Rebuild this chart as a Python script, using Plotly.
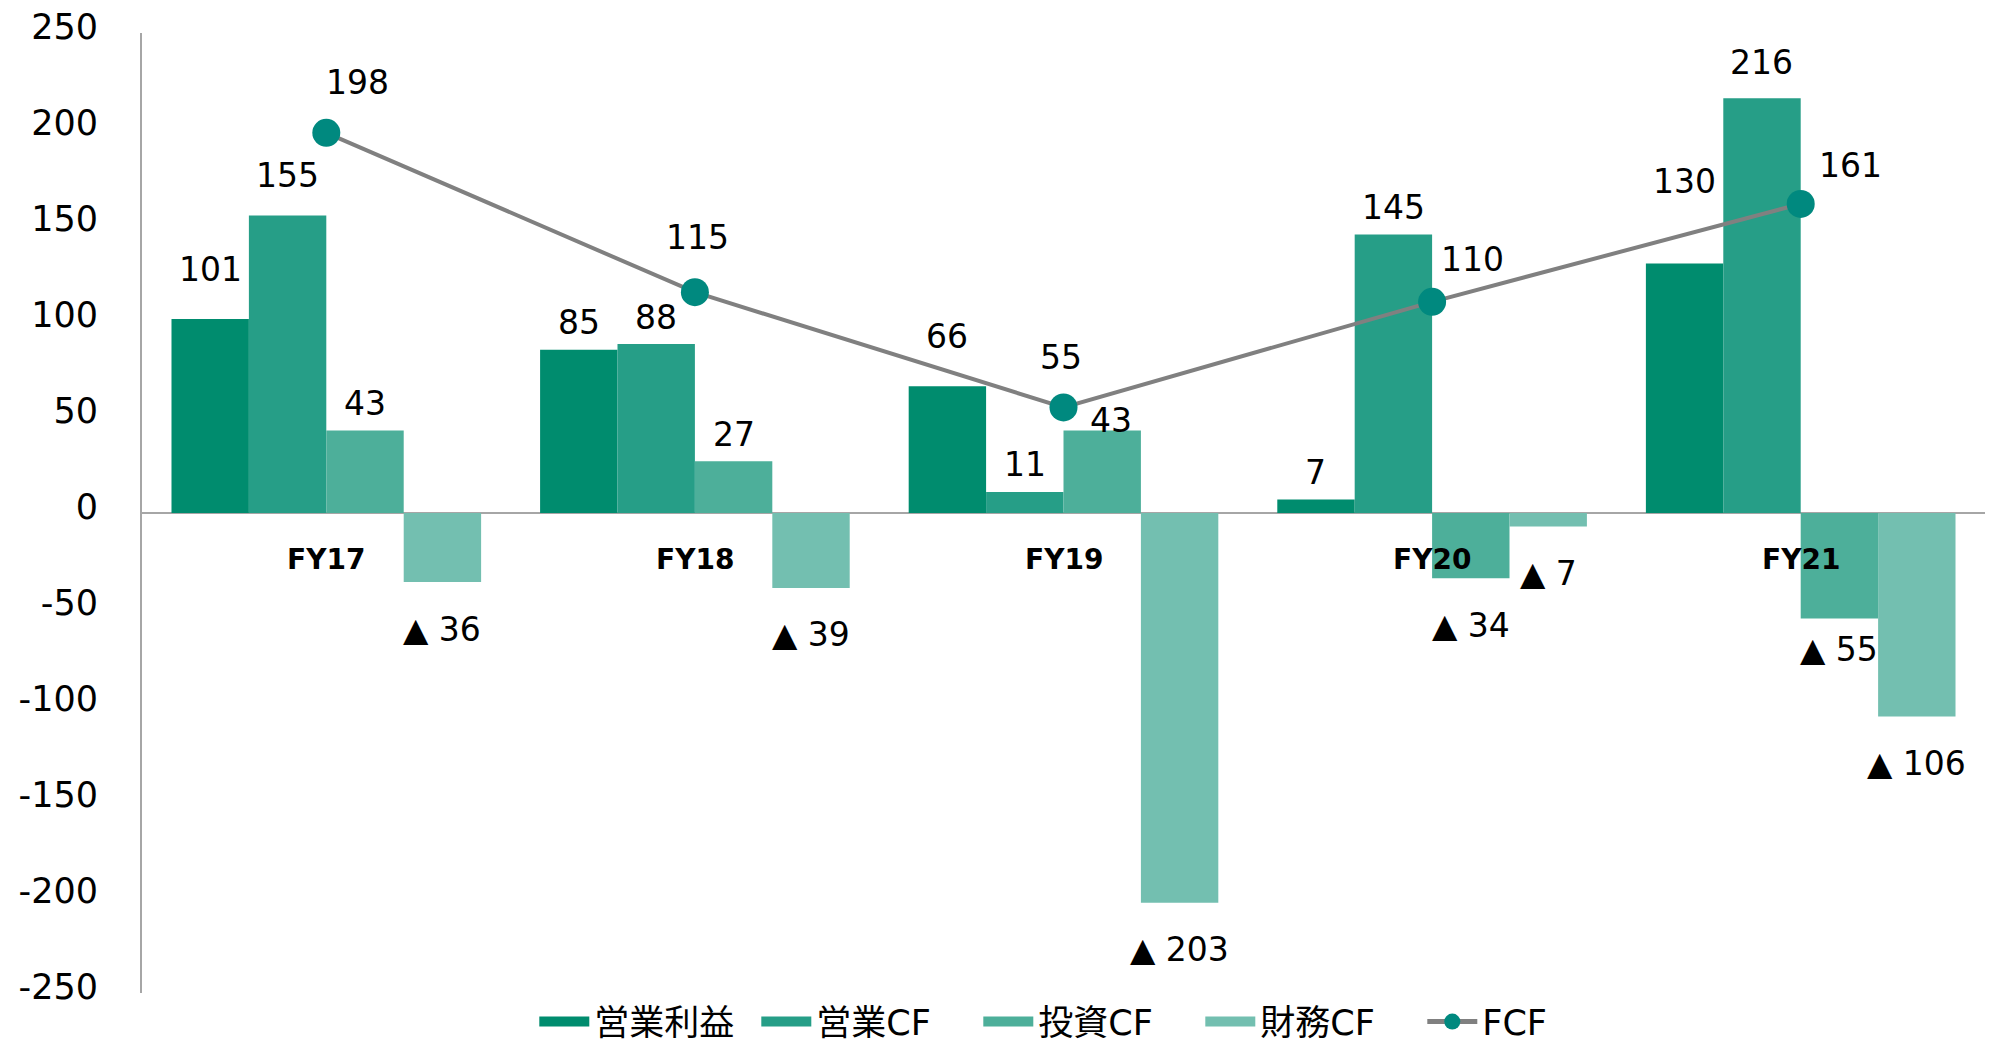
import plotly.graph_objects as go

# ---- data ----
categories = ["FY17", "FY18", "FY19", "FY20", "FY21"]
op_profit = [101, 85, 66, 7, 130]      # 営業利益
op_cf = [155, 88, 11, 145, 216]        # 営業CF
inv_cf = [43, 27, 43, -34, -55]        # 投資CF
fin_cf = [-36, -39, -203, -7, -106]    # 財務CF
fcf = [198, 115, 55, 110, 161]         # FCF
series_names = ["営業利益", "営業CF", "投資CF", "財務CF"]
y_ticks = [-250, -200, -150, -100, -50, 0, 50, 100, 150, 200, 250]
y_tick_text = ["-250", "-200", "-150", "-100", "-50", "0", "50", "100", "150", "200", "250"]

# ---- style ----
W, H = 1997, 1045
ML, MR, MT, MB = 142, 12, 33, 52
BARGAP = 0.16
colors = ["#008C6E", "#269E87", "#4DAF9A", "#73BFB0"]
FONT = "DejaVu Sans, Verdana, Noto Sans CJK JP, sans-serif"
LABEL_SIZE = 33

# label nudges (pixels): (series_index, category_index) -> (dx, dy)
label_nudge = {
    (0, 0): (0, 50), (1, 0): (0, 40), (0, 2): (0, 50),
    (0, 4): (0, 82), (1, 4): (0, 36), (2, 2): (9, 10),
    (2, 4): (0, -31),
}
fcf_nudge = [(31, 50), (3, 55), (-3, 50), (40, 42), (50, 38)]

fig = go.Figure()
all_series = [op_profit, op_cf, inv_cf, fin_cf]
for name, vals, col in zip(series_names, all_series, colors):
    fig.add_trace(go.Bar(x=categories, y=vals, name=name, marker_color=col,
                         marker_line_width=0, showlegend=False))

fig.add_trace(go.Scatter(x=categories, y=fcf, name="FCF", mode="lines+markers",
                         line=dict(color="#808080", width=4),
                         marker=dict(color="#00897F", size=28), showlegend=False))

# legend entries (wide block swatches like the reference)
for name, col in zip(series_names, colors):
    fig.add_trace(go.Scatter(x=[None], y=[None], name=name, mode="lines",
                             line=dict(color=col, width=26)))
fig.add_trace(go.Scatter(x=[None], y=[None], name="FCF", mode="lines+markers",
                         line=dict(color="#808080", width=5),
                         marker=dict(color="#00897F", size=16)))

plot_w = W - ML - MR
bar_px = plot_w / len(categories) * (1 - BARGAP) / len(all_series)

annotations = []
for si, vals in enumerate(all_series):
    for ci, v in enumerate(vals):
        dx, dy = label_nudge.get((si, ci), (0, 27 if v >= 0 else -47))
        txt = str(v) if v >= 0 else "▲ " + str(abs(v))
        annotations.append(dict(
            x=categories[ci], y=v, xref="x", yref="y", text=txt, showarrow=False,
            xshift=(si - 1.5) * bar_px + dx, yshift=dy,
            font=dict(family=FONT, size=LABEL_SIZE, color="#000000")))

for ci, v in enumerate(fcf):
    dx, dy = fcf_nudge[ci]
    annotations.append(dict(
        x=categories[ci], y=v, xref="x", yref="y", text=str(v), showarrow=False,
        xshift=dx, yshift=dy,
        font=dict(family=FONT, size=LABEL_SIZE, color="#000000")))

for c in categories:
    annotations.append(dict(
        x=c, y=0, xref="x", yref="y", text="<b>" + c + "</b>", showarrow=False,
        yshift=-46, font=dict(family=FONT, size=28, color="#000000")))

fig.update_layout(
    width=W, height=H,
    margin=dict(l=ML, r=MR, t=MT, b=MB, autoexpand=False),
    paper_bgcolor="white", plot_bgcolor="white",
    barmode="group", bargap=BARGAP, bargroupgap=0,
    font=dict(family=FONT, size=LABEL_SIZE, color="#000000"),
    showlegend=True,
    legend=dict(orientation="h", x=0.514, xanchor="center", y=-0.030, yanchor="middle",
                font=dict(family=FONT, size=35, color="#000000"),
                itemwidth=50, bgcolor="rgba(0,0,0,0)", traceorder="normal",
                tracegroupgap=0, entrywidth=157, entrywidthmode="pixels"),
    annotations=annotations,
)
fig.update_xaxes(showticklabels=False, showline=False, showgrid=False,
                 zeroline=False, ticks="")
fig.update_yaxes(range=[-250, 250], tickvals=y_ticks, ticktext=y_tick_text,
                 showgrid=False, automargin=False,
                 showline=True, linecolor="#A6A6A6", linewidth=2,
                 zeroline=True, zerolinecolor="#A6A6A6", zerolinewidth=2,
                 ticks="", ticklabelstandoff=35, ticklabelshift=-6,
                 tickfont=dict(family=FONT, size=35, color="#000000"))

fig.write_html("out.html", config={"displayModeBar": False},
               post_script="document.body.style.margin='0';document.body.style.overflow='hidden';")
